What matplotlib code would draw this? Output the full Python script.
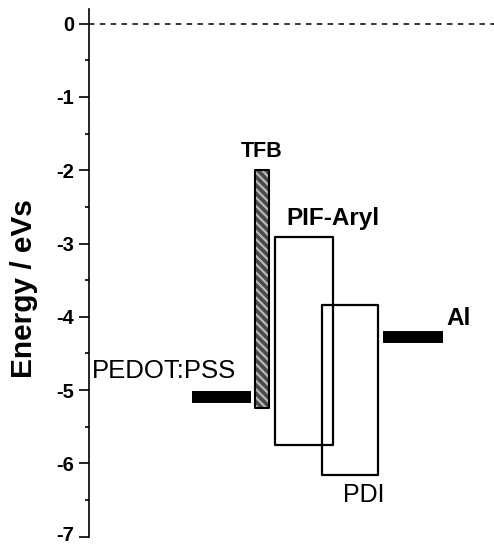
import matplotlib
matplotlib.use("Agg")
import matplotlib.pyplot as plt
import matplotlib.transforms as mtransforms
from matplotlib.patches import Rectangle

plt.rcParams['font.family'] = ['Liberation Sans', 'DejaVu Sans']
plt.rcParams['axes.unicode_minus'] = False
plt.rcParams['hatch.linewidth'] = 1.6

# ---- data (energies in eV) ----
electrodes = ["PEDOT:PSS", "Al"]
work_functions = [-5.10, -4.27]

semiconductors = ["TFB", "PIF-Aryl", "PDI"]
lumo_levels = [-2.00, -2.91, -3.84]
homo_levels = [-5.25, -5.75, -6.16]

y_ticks = [0, -1, -2, -3, -4, -5, -6, -7]
y_tick_labels = ["0", "-1", "-2", "-3", "-4", "-5", "-6", "-7"]

# ---- layout (x positions in arbitrary units 0..10) ----
electrode_x = {"PEDOT:PSS": (2.54, 4.00), "Al": (7.27, 8.73)}
semi_x = {"TFB": (4.10, 4.44), "PIF-Aryl": (4.60, 6.02), "PDI": (5.75, 7.14)}
label_pos = {
    "TFB": (4.27, -1.82, 'center', 'bold', 15.5),
    "PIF-Aryl": (4.88, -2.75, 'left', 'bold', 17.5),
    "Al": (8.83, -4.11, 'left', 'bold', 17.5),
    "PEDOT:PSS": (0.08, -4.84, 'left', 'normal', 18.5),
    "PDI": (6.28, -6.53, 'left', 'normal', 18),
}

fig = plt.figure(figsize=(4.94, 5.45), dpi=100)
ax = fig.add_axes([89/494, 8.3/545, 1 - 89/494, 527.3/545])
ax.set_xlim(0, 10)
ax.set_ylim(-7, 0.195)

# vacuum level
ax.axhline(0, color='black', lw=1.1, ls=(0, (3.6, 3.5)), zorder=1)

# electrodes
for name, wf in zip(electrodes, work_functions):
    x0, x1 = electrode_x[name]
    ax.hlines(wf, x0, x1, colors='black', lw=8.6, capstyle='butt', zorder=3)

# semiconductors
for name, lumo, homo in zip(semiconductors, lumo_levels, homo_levels):
    x0, x1 = semi_x[name]
    if name == "TFB":
        ax.add_patch(Rectangle((x0, homo), x1 - x0, lumo - homo,
                               facecolor='#4a4a4a', edgecolor='#b8b8b8',
                               hatch='\\\\\\\\', lw=0, zorder=4))
        ax.add_patch(Rectangle((x0, homo), x1 - x0, lumo - homo,
                               facecolor='none', edgecolor='black',
                               lw=1.5, joinstyle='round', zorder=5))
    else:
        ax.add_patch(Rectangle((x0, homo), x1 - x0, lumo - homo,
                               facecolor='none', edgecolor='black',
                               lw=1.6, joinstyle='round', zorder=4))

for name, (x, y, ha, fw, fs) in label_pos.items():
    ax.text(x, y, name, ha=ha, va='baseline', fontsize=fs, fontweight=fw)

# axes styling
for s in ['top', 'right', 'bottom']:
    ax.spines[s].set_visible(False)
ax.spines['left'].set_linewidth(1.2)
ax.set_xticks([])
ax.set_yticks(y_ticks)
ax.set_yticklabels(y_tick_labels, fontsize=14.5, fontweight='bold')
ax.set_yticks([t - 0.5 for t in y_ticks[:-1]], minor=True)
ax.tick_params(axis='y', which='major', length=7.2, width=1.2, pad=3.5, direction='out')
ax.tick_params(axis='y', which='minor', length=3.2, width=1.2, direction='out')
ax.set_ylabel("Energy / eVs", fontsize=21.5, fontweight='bold')
ax.yaxis.set_label_coords(-0.125, 0.47)

# nudge the bottom tick label up a little so it stays inside the canvas
last = ax.yaxis.get_major_ticks()[-1].label1
last.set_transform(last.get_transform() +
                   mtransforms.ScaledTranslation(0, 3 / 100, fig.dpi_scale_trans))

fig.savefig("out.png", dpi=100)
